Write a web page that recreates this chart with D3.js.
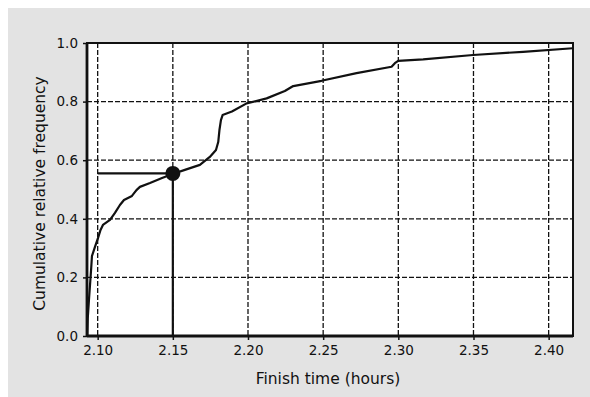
<!DOCTYPE html>
<html>
<head>
<meta charset="utf-8">
<script src="https://cdn.jsdelivr.net/npm/d3@7"></script>
<style>
  html, body { margin: 0; padding: 0; background: #ffffff; }
  svg { display: block; }
</style>
</head>
<body>
<svg id="chart" width="590" height="397"></svg>
<script>
// Cumulative relative frequency of finish times (hours)
const finishTimes = [2.0931, 2.0934, 2.0942, 2.0949, 2.0957, 2.0962, 2.0982, 2.1002, 2.1019, 2.1035,
  2.1082, 2.1115, 2.1148, 2.1175, 2.1228, 2.1258, 2.1281, 2.1348, 2.1428, 2.1499,
  2.1580, 2.1680, 2.1746, 2.1787, 2.1802, 2.1810, 2.1820, 2.1831, 2.1893, 2.1991,
  2.2124, 2.2245, 2.2301, 2.2489, 2.2722, 2.2955, 2.2977, 2.2999, 2.3165, 2.3497,
  2.3830, 2.4160];
const cumFreq = [0.000, 0.061, 0.123, 0.174, 0.232, 0.273, 0.304, 0.334, 0.362, 0.379,
  0.396, 0.420, 0.447, 0.464, 0.478, 0.498, 0.509, 0.522, 0.539, 0.553,
  0.567, 0.584, 0.611, 0.635, 0.662, 0.703, 0.737, 0.754, 0.766, 0.794,
  0.811, 0.836, 0.853, 0.871, 0.897, 0.919, 0.931, 0.939, 0.944, 0.959,
  0.970, 0.982];

const xTicks = [2.10, 2.15, 2.20, 2.25, 2.30, 2.35, 2.40];
const yTicks = [0.0, 0.2, 0.4, 0.6, 0.8, 1.0];

// Marked reading: finish time 2.15 h
const markTime = 2.15;
const markFreq = 0.555;
const guideStart = 2.10;

const svg = d3.select("#chart");
const W = 590, H = 397;
const plot = { left: 87, right: 573, top: 43, bottom: 336 };

const x = d3.scaleLinear().domain([2.0929, 2.4162]).range([plot.left, plot.right]);
const y = d3.scaleLinear().domain([0, 1]).range([plot.bottom, plot.top]);

// grey panel
svg.append("rect").attr("x", 8).attr("y", 8).attr("width", W - 8).attr("height", H - 8)
  .attr("fill", "#e3e3e3");

// plot area
svg.append("rect").attr("x", plot.left).attr("y", plot.top)
  .attr("width", plot.right - plot.left).attr("height", plot.bottom - plot.top)
  .attr("fill", "#ffffff");

const font = "'DejaVu Sans', Verdana, sans-serif";

// grid
const grid = svg.append("g").attr("stroke", "#111").attr("stroke-width", 1.3)
  .attr("stroke-dasharray", "5,2");
grid.selectAll("line.gx").data(xTicks).join("line")
  .attr("x1", d => x(d)).attr("x2", d => x(d))
  .attr("y1", plot.top).attr("y2", plot.bottom);
grid.selectAll("line.gy").data(yTicks.filter(d => d > 0 && d < 1)).join("line")
  .attr("class", "gy")
  .attr("x1", plot.left).attr("x2", plot.right)
  .attr("y1", d => y(d)).attr("y2", d => y(d));

// axes
const xAxis = d3.axisBottom(x).tickValues(xTicks).tickFormat(d3.format(".2f"))
  .tickSizeInner(4).tickSizeOuter(0).tickPadding(5);
const yAxis = d3.axisLeft(y).tickValues(yTicks).tickFormat(d3.format(".1f"))
  .tickSizeInner(4).tickSizeOuter(0).tickPadding(5);

const gx = svg.append("g").attr("transform", `translate(0,${plot.bottom})`).call(xAxis);
const gy = svg.append("g").attr("transform", `translate(${plot.left},0)`).call(yAxis);
[gx, gy].forEach(g => {
  g.select(".domain").remove();
  g.selectAll("line").attr("stroke", "#111").attr("stroke-width", 1.5);
  g.selectAll("text").attr("fill", "#111").attr("font-family", font).attr("font-size", 13.5);
});

// frame
svg.append("rect").attr("x", plot.left).attr("y", plot.top)
  .attr("width", plot.right - plot.left).attr("height", plot.bottom - plot.top)
  .attr("fill", "none").attr("stroke", "#111").attr("stroke-width", 2);
svg.append("line").attr("x1", plot.left).attr("x2", plot.left)
  .attr("y1", plot.top).attr("y2", plot.bottom + 1).attr("stroke", "#111").attr("stroke-width", 2.8);
svg.append("line").attr("x1", plot.left).attr("x2", plot.right)
  .attr("y1", plot.bottom).attr("y2", plot.bottom).attr("stroke", "#111").attr("stroke-width", 2.8);

// curve
const pts = finishTimes.map((t, i) => [t, cumFreq[i]]);
svg.append("path").datum(pts)
  .attr("d", d3.line().x(d => x(d[0])).y(d => y(d[1])))
  .attr("fill", "none").attr("stroke", "#111").attr("stroke-width", 2.2)
  .attr("stroke-linejoin", "round");

// guide lines to the marked point
svg.append("line").attr("x1", x(guideStart)).attr("x2", x(markTime))
  .attr("y1", y(markFreq)).attr("y2", y(markFreq))
  .attr("stroke", "#111").attr("stroke-width", 2.2);
svg.append("line").attr("x1", x(markTime)).attr("x2", x(markTime))
  .attr("y1", y(markFreq)).attr("y2", plot.bottom)
  .attr("stroke", "#111").attr("stroke-width", 2.2);
svg.append("circle").attr("cx", x(markTime)).attr("cy", y(markFreq)).attr("r", 7.5)
  .attr("fill", "#111");

// axis titles
svg.append("text").attr("x", 328).attr("y", 384)
  .attr("text-anchor", "middle").attr("font-family", font).attr("font-size", 15.5)
  .attr("fill", "#111").text("Finish time (hours)");
svg.append("text")
  .attr("transform", `translate(45,${(plot.top + plot.bottom) / 2 + 4}) rotate(-90)`)
  .attr("text-anchor", "middle").attr("font-family", font).attr("font-size", 15.5)
  .attr("fill", "#111").text("Cumulative relative frequency");
</script>
</body>
</html>
